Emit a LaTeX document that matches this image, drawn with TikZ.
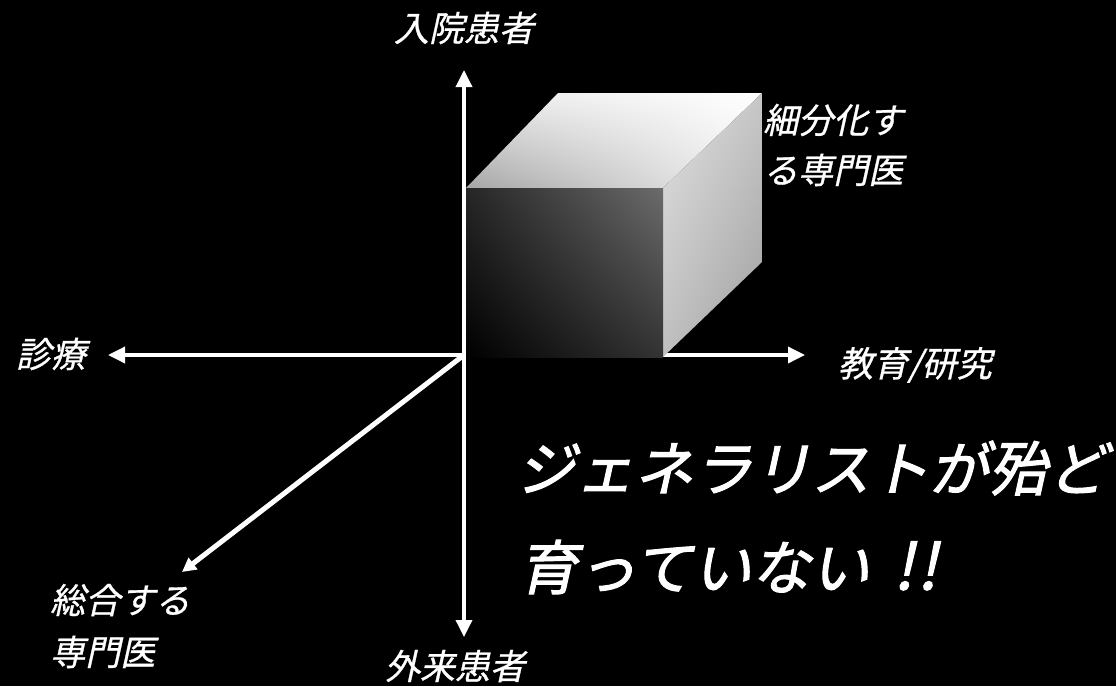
\documentclass[tikz,border=0pt]{standalone}
\usepackage{fontspec}
\newfontfamily\jp[FakeSlant=0.22,FakeBold=0.8]{Noto Sans CJK JP}
\newfontfamily\jpbig[FakeSlant=0.22,FakeBold=1.8]{Noto Sans CJK JP}
\usetikzlibrary{arrows.meta,shadings}
\begin{document}
\begin{tikzpicture}[x=1pt,y=-1pt,
  axis/.style={draw=white, line width=3.5pt, -{Triangle[length=17pt,width=16pt]}},
  diag/.style={draw=white, line width=5pt, -{Triangle[length=14pt,width=14pt]}},
  lbl/.style={text=white, font=\jp\fontsize{35}{40}\selectfont, inner sep=0pt},
  big/.style={text=white, font=\jpbig\fontsize{59}{68}\selectfont, inner sep=0pt, anchor=west}]
\fill[black] (0,0) rectangle (1116,686);
\useasboundingbox (0,0) rectangle (1116,686);
% axes
\coordinate (O) at (464,355);
\coordinate (up) at (464,70);
\coordinate (down) at (464,637);
\coordinate (left) at (108,355);
\coordinate (right) at (805,355);
\coordinate (dg) at (182,572);
\draw[axis] (O) -- (up);
\draw[axis] (O) -- (down);
\draw[axis] (O) -- (left);
\draw[axis] (O) -- (right);
\draw[diag] (O) -- (dg);
% box
\shade[shading=bilinear interpolation, upper left=white!92!black, upper right=white, lower left=white!65!black, lower right=white!95!black]
  (466,188) -- (558,93) -- (762,93) -- (663,188) -- cycle;
\shade[shading=bilinear interpolation, upper left=white!88!black, upper right=white!78!black, lower left=white!75!black, lower right=white!62!black]
  (663,188) -- (762,93) -- (762,262) -- (663,357) -- cycle;
\shade[shading=bilinear interpolation, upper left=black!85!white, upper right=white!42!black, lower left=black, lower right=white!20!black]
  (466,188) rectangle (663,357);
% labels
\node[lbl] (inpatient) at (464,28) {入院患者};
\node[lbl] (shinryo) at (51,354) {診療};
\node[lbl] (kyoiku) at (915,365) {教育/研究};
\node[lbl, anchor=west] (saibun1) at (763,120) {細分化す};
\node[lbl, anchor=west] (saibun2) at (763,170) {る専門医};
\node[lbl, anchor=west] (sogo1) at (50,600) {総合する};
\node[lbl, anchor=west] (sogo2) at (50,652) {専門医};
\node[lbl] (gairai) at (455,666) {外来患者};
\node[big] (g1) at (516,468) {ジェネラリストが殆ど};
\node[big] (g2) at (518,567) {育っていない\hspace{24pt}{\fontsize{64}{68}\selectfont !\hspace{3pt}!}};
\end{tikzpicture}
\end{document}
